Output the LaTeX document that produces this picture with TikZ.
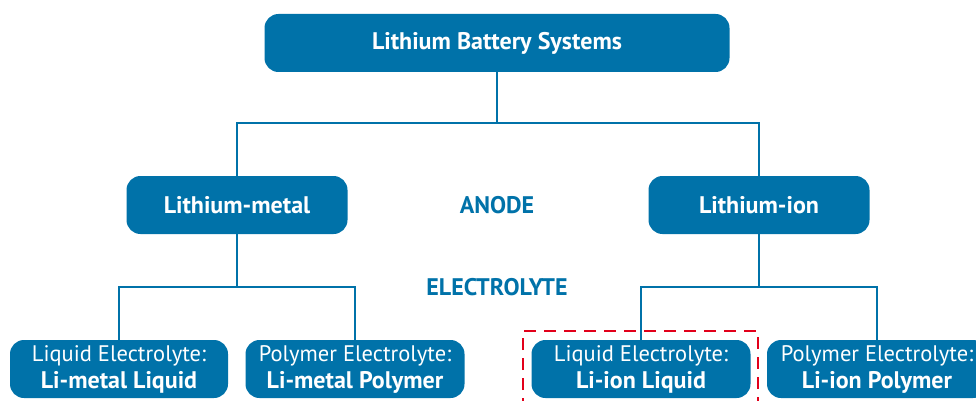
\documentclass[tikz,border=0pt]{standalone}
\usepackage{fontspec}
\setmainfont{PT Sans}
\usetikzlibrary{positioning}

\definecolor{libblue}{HTML}{0072A9}
\definecolor{libred}{HTML}{E2001A}

\tikzset{
    box/.style = {fill=libblue, text=white, rounded corners=14pt, align=center,
                  minimum height=58pt, inner sep=0pt, font=\fontsize{22.5}{27}\selectfont},
    link/.style = {draw=libblue, line width=2pt},
    tag/.style = {text=libblue, font=\fontsize{24}{27}\selectfont\bfseries}
}
\newcommand{\bigbold}[1]{{\fontsize{24}{27}\selectfont\bfseries #1}}

\begin{document}
\begin{tikzpicture}[x=1pt, y=-1pt]

    \useasboundingbox (0,0) rectangle (976,401);

    % top level
    \node[box, minimum width=465pt] (top) at (497,43) {\bigbold{Lithium Battery Systems}};

    % anode
    \node[box, minimum width=221pt] (metal) at (237,205) {\bigbold{Lithium-metal}};
    \node[box, minimum width=221pt] (ion) at (759,205) {\bigbold{Lithium-ion}};
    \node[tag] (anode) at (497,205) {ANODE};
    \node[tag] (electro) at (497,287) {ELECTROLYTE};

    % electrolyte
    \node[box, minimum width=218pt] (mliq) at (119,369) {Liquid Electrolyte:\\\bigbold{Li-metal Liquid}};
    \node[box, minimum width=219pt] (mpol) at (355,369) {Polymer Electrolyte:\\\bigbold{Li-metal Polymer}};
    \node[box, minimum width=219pt] (iliq) at (641,369) {Liquid Electrolyte:\\\bigbold{Li-ion Liquid}};
    \node[box, minimum width=220pt] (ipol) at (877,369) {Polymer Electrolyte:\\\bigbold{Li-ion Polymer}};

    % connectors
    \draw[link] (top.south) -- ++(0,51) -| (metal.north);
    \draw[link] (top.south) -- ++(0,51) -| (ion.north);
    \draw[link] (metal.south) -- ++(0,53) -| (mliq.north);
    \draw[link] (metal.south) -- ++(0,53) -| (mpol.north);
    \draw[link] (ion.south) -- ++(0,53) -| (iliq.north);
    \draw[link] (ion.south) -- ++(0,53) -| (ipol.north);

    % highlight
    \draw[libred, line width=2.8pt, dash pattern=on 12pt off 8pt]
        (523,410) -- (523,331) -- (758,331) -- (758,410);

\end{tikzpicture}
\end{document}
